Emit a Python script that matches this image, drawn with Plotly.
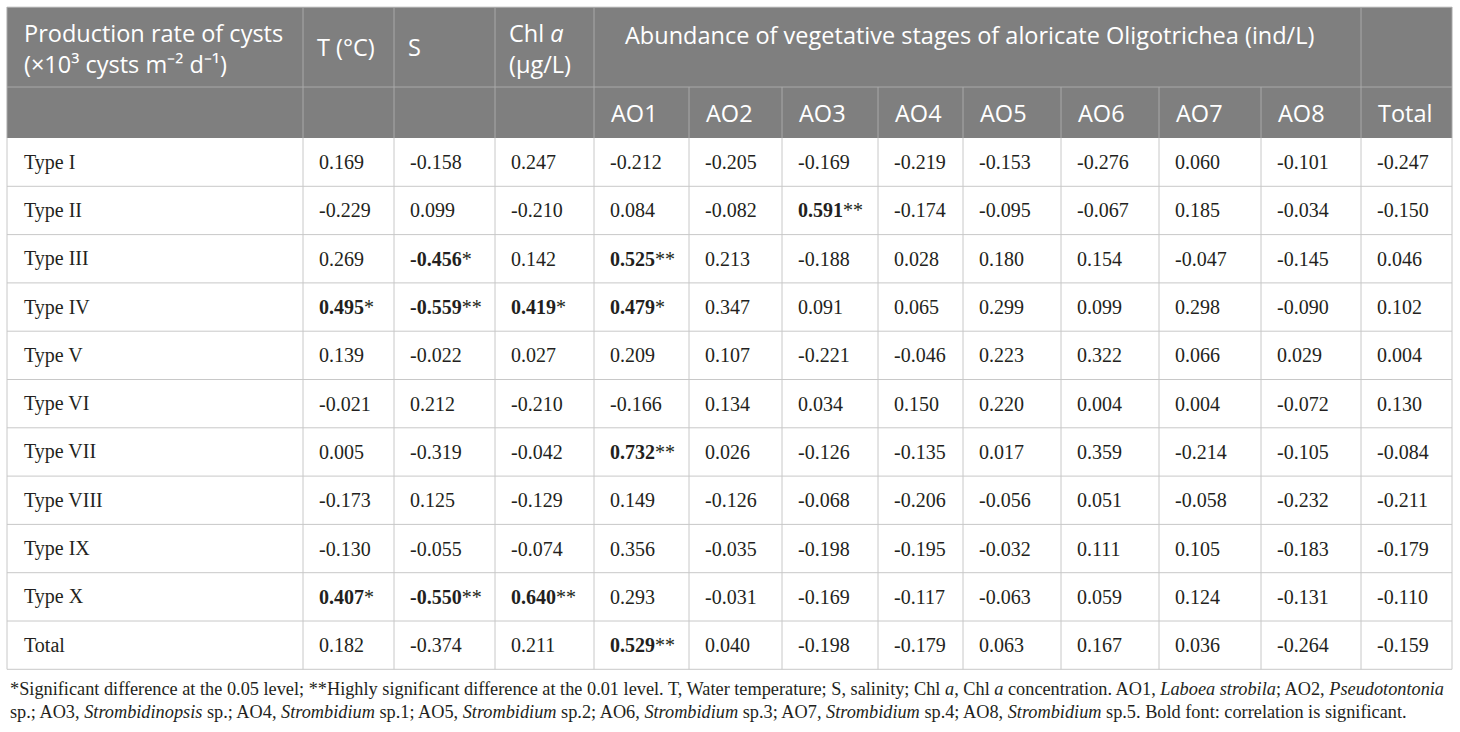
import plotly.graph_objects as go

# Correlation table: production rate of cysts vs environment / Oligotrichea abundance
row_labels = ["Type I", "Type II", "Type III", "Type IV", "Type V", "Type VI",
              "Type VII", "Type VIII", "Type IX", "Type X", "Total"]

# values as printed, stars mark significance (bold)
t_vals = ["0.169", "-0.229", "0.269", "0.495*", "0.139", "-0.021", "0.005", "-0.173", "-0.130", "0.407*", "0.182"]
s_vals = ["-0.158", "0.099", "-0.456*", "-0.559**", "-0.022", "0.212", "-0.319", "0.125", "-0.055", "-0.550**", "-0.374"]
chl_vals = ["0.247", "-0.210", "0.142", "0.419*", "0.027", "-0.210", "-0.042", "-0.129", "-0.074", "0.640**", "0.211"]
ao1_vals = ["-0.212", "0.084", "0.525**", "0.479*", "0.209", "-0.166", "0.732**", "0.149", "0.356", "0.293", "0.529**"]
ao2_vals = ["-0.205", "-0.082", "0.213", "0.347", "0.107", "0.134", "0.026", "-0.126", "-0.035", "-0.031", "0.040"]
ao3_vals = ["-0.169", "0.591**", "-0.188", "0.091", "-0.221", "0.034", "-0.126", "-0.068", "-0.198", "-0.169", "-0.198"]
ao4_vals = ["-0.219", "-0.174", "0.028", "0.065", "-0.046", "0.150", "-0.135", "-0.206", "-0.195", "-0.117", "-0.179"]
ao5_vals = ["-0.153", "-0.095", "0.180", "0.299", "0.223", "0.220", "0.017", "-0.056", "-0.032", "-0.063", "0.063"]
ao6_vals = ["-0.276", "-0.067", "0.154", "0.099", "0.322", "0.004", "0.359", "0.051", "0.111", "0.059", "0.167"]
ao7_vals = ["0.060", "0.185", "-0.047", "0.298", "0.066", "0.004", "-0.214", "-0.058", "0.105", "0.124", "0.036"]
ao8_vals = ["-0.101", "-0.034", "-0.145", "-0.090", "0.029", "-0.072", "-0.105", "-0.232", "-0.183", "-0.131", "-0.264"]
total_vals = ["-0.247", "-0.150", "0.046", "0.102", "0.004", "0.130", "-0.084", "-0.211", "-0.179", "-0.110", "-0.159"]

columns = [t_vals, s_vals, chl_vals, ao1_vals, ao2_vals, ao3_vals, ao4_vals,
           ao5_vals, ao6_vals, ao7_vals, ao8_vals, total_vals]

sub_headers = ["AO1", "AO2", "AO3", "AO4", "AO5", "AO6", "AO7", "AO8", "Total"]

footnote_1 = ("*Significant difference at the 0.05 level; **Highly significant difference at the 0.01 level. "
              "T, Water temperature; S, salinity; Chl <i>a</i>, Chl <i>a</i> concentration. "
              "AO1, <i>Laboea strobila</i>; AO2, <i>Pseudotontonia</i>")
footnote_2 = ("sp.; AO3, <i>Strombidinopsis</i> sp.; AO4, <i>Strombidium</i> sp.1; AO5, <i>Strombidium</i> sp.2; "
              "AO6, <i>Strombidium</i> sp.3; AO7, <i>Strombidium</i> sp.4; AO8, <i>Strombidium</i> sp.5. "
              "Bold font: correlation is significant.")

# layout geometry (pixels)
W, H = 1460, 732
col_edges = [7, 303, 394, 495, 594, 689, 782, 878, 963, 1061, 1159, 1261, 1361, 1452]
head_top, head_mid, head_bot = 7, 87, 138
row_h = 48.3
pad = 14

HEAD_BG = "#7f7f7f"
HEAD_LINE = "#a9a9a9"
GRID = "#c8c8c8"
INK = "#231f20"
SANS = "Open Sans"
SERIF = "Liberation Serif"
HSIZE = 23.5

shapes = []
annotations = []


def line(x0, y0, x1, y1, color):
    shapes.append(dict(type="line", xref="x", yref="y", x0=x0, y0=y0, x1=x1, y1=y1,
                       line=dict(color=color, width=1)))


def text(x, y, s, font, size, color, xanchor="left"):
    annotations.append(dict(x=x, y=y, xref="x", yref="y", text=s, showarrow=False,
                            xanchor=xanchor, yanchor="middle", align="left",
                            font=dict(family=font, size=size, color=color)))


# header background
shapes.append(dict(type="rect", xref="x", yref="y", x0=col_edges[0], x1=col_edges[-1],
                   y0=head_top, y1=head_bot, fillcolor=HEAD_BG, line=dict(width=0), layer="below"))

# header grid
line(col_edges[0], head_top, col_edges[-1], head_top, "#d0d0d0")
line(col_edges[0], head_mid, col_edges[-1], head_mid, HEAD_LINE)
for i, xe in enumerate(col_edges[1:-1], start=1):
    if 5 <= i <= 11:
        line(xe, head_mid, xe, head_bot, HEAD_LINE)
    else:
        line(xe, head_top, xe, head_bot, HEAD_LINE)

# header text
wh = "white"
text(col_edges[0] + 15, 48, "Production rate of cysts<br>(×10³ cysts m⁻² d⁻¹)", SANS, HSIZE, wh)
text(col_edges[1] + 12, 47, "T (°C)", SANS, HSIZE, wh)
text(col_edges[2] + 12, 47, "S", SANS, HSIZE, wh)
text(col_edges[3] + 12, 48, "Chl <i>a</i><br>(µg/L)", SANS, HSIZE, wh)
text(col_edges[4] + 29, 35, "Abundance of vegetative stages of aloricate Oligotrichea (ind/L)", SANS, HSIZE, wh)
for j, lab in enumerate(sub_headers):
    text(col_edges[4 + j] + 15, (head_mid + head_bot) / 2, lab, SANS, HSIZE, wh)

# body grid
n_rows = len(row_labels)
body_bot = head_bot + n_rows * row_h
for r in range(1, n_rows + 1):
    line(col_edges[0], head_bot + r * row_h, col_edges[-1], head_bot + r * row_h, GRID)
for xe in col_edges:
    line(xe, head_bot, xe, body_bot, GRID)
line(col_edges[0], head_top, col_edges[0], head_bot, HEAD_LINE)
line(col_edges[-1], head_top, col_edges[-1], head_bot, HEAD_LINE)


def fmt(v):
    stars = v.count("*")
    if stars:
        return "<b>" + v.rstrip("*") + "</b>" + "*" * stars
    return v


for r, lab in enumerate(row_labels):
    yc = head_bot + (r + 0.5) * row_h
    text(col_edges[0] + 15, yc, lab, SERIF, 20, INK)
    for c, col in enumerate(columns):
        text(col_edges[c + 1] + pad, yc, fmt(col[r]), SERIF, 20, INK)

# footnotes
text(8, 689, footnote_1, SERIF, 18.3, INK)
text(8, 712, footnote_2, SERIF, 18.3, INK)

fig = go.Figure()
fig.update_layout(
    width=W, height=H,
    margin=dict(l=0, r=0, t=0, b=0),
    paper_bgcolor="white", plot_bgcolor="white",
    xaxis=dict(range=[0, W], visible=False, fixedrange=True),
    yaxis=dict(range=[H, 0], visible=False, fixedrange=True),
    shapes=shapes, annotations=annotations,
    showlegend=False,
)
fig.write_html("out.html", config={"displayModeBar": False},
               post_script="document.body.style.margin='0';")
